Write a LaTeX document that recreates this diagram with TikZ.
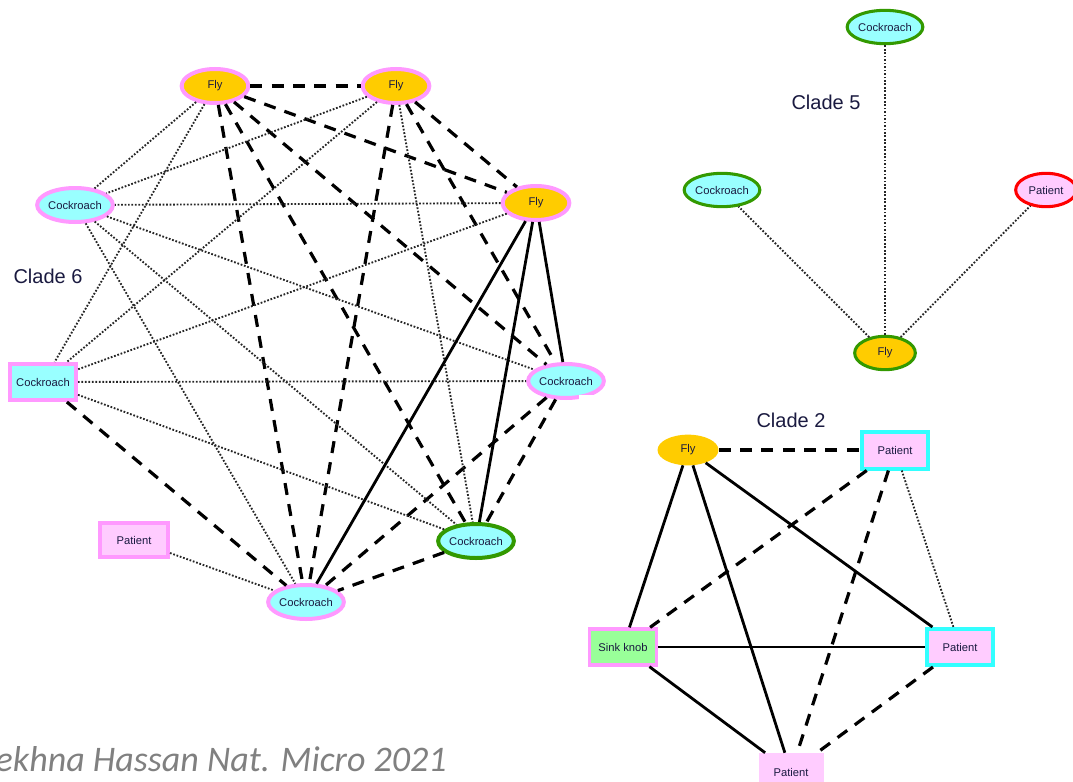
\documentclass[tikz,border=0pt]{standalone}
\usepackage{fontspec}
\setmainfont{Liberation Sans}
\newfontfamily\citefont{Carlito}
\usetikzlibrary{shapes.geometric}
\definecolor{flyc}{HTML}{FFCC00}
\definecolor{roach}{HTML}{99FFFF}
\definecolor{pat}{HTML}{FFCCFF}
\definecolor{sinkc}{HTML}{99FF99}
\definecolor{pinkb}{HTML}{FF99FF}
\definecolor{greenb}{HTML}{339900}
\definecolor{redb}{HTML}{FF0000}
\definecolor{cyanb}{HTML}{33FFFF}
\definecolor{citec}{HTML}{808080}
\definecolor{labc}{HTML}{1A1A40}
\begin{document}
\begin{tikzpicture}[x=0.75pt,y=-0.75pt,
  every node/.style={inner sep=0pt},
  lbl/.style={font=\fontsize{8.4}{9}\selectfont, text=labc},
  ellbig/.style={lbl, ellipse, line width=3pt, minimum width=50pt, minimum height=25.5pt},
  ellsm/.style={lbl, ellipse, line width=2.3pt, minimum width=45.5pt, minimum height=25pt},
  boxb/.style={lbl, rectangle, line width=3pt, minimum width=49.5pt, minimum height=27pt},
  flyfill/.style={fill=flyc},
  roachfill/.style={fill=roach},
  patfill/.style={fill=pat},
  cladelbl/.style={font=\fontsize{15}{17}\selectfont, text=labc},
  dsh/.style={draw=black, line width=2.4pt, dash pattern=on 9pt off 7pt},
  dot/.style={draw=black!85, line width=1.4pt, dash pattern=on 1.3pt off 1.3pt},
  sol/.style={draw=black, line width=2.1pt},
]
\useasboundingbox (0,0) rectangle (1073,781);

% ---------------- Clade 6 ----------------
\node[ellbig, flyfill, draw=pinkb] (F1) at (215,86) {Fly};
\node[ellbig, flyfill, draw=pinkb] (F2) at (396,86) {Fly};
\node[ellbig, flyfill, draw=pinkb] (F3) at (536,203) {Fly};
\node[ellbig, roachfill, draw=pinkb] (C1) at (75,205) {Cockroach};
\node[boxb, roachfill, draw=pinkb] (C2) at (43,382) {Cockroach};
\node[ellbig, roachfill, draw=pinkb] (C3) at (566,381) {Cockroach};
\node[ellbig, roachfill, draw=greenb] (C4) at (476,541) {Cockroach};
\node[ellbig, roachfill, draw=pinkb] (C5) at (306,602) {Cockroach};
\node[boxb, patfill, draw=pinkb, minimum width=51pt, minimum height=25.5pt] (P6) at (134,540) {Patient};
\node[cladelbl] (L6) at (48,276) {Clade 6};

\foreach \a/\b in {F1/F2,F1/F3,F1/C3,F1/C4,F1/C5,F2/F3,F2/C3,F2/C5,C2/C5,C3/C4,C3/C5,C4/C5}
  \draw[dsh] (\a) -- (\b);
\foreach \a/\b in {F1/C1,F1/C2,F2/C1,F2/C2,F2/C4,F3/C1,F3/C2,C1/C3,C1/C4,C1/C5,C2/C3,C2/C4,P6/C5}
  \draw[dot] (\a) -- (\b);
\foreach \a/\b in {F3/C3,F3/C4,F3/C5}
  \draw[sol] (\a) -- (\b);
\fill[white] (579,395) rectangle (600,412);

% ---------------- Clade 5 ----------------
\node[ellsm, roachfill, draw=greenb] (CT) at (885,27) {Cockroach};
\node[ellsm, roachfill, draw=greenb] (CL) at (722,190) {Cockroach};
\node[ellsm, patfill, draw=redb] (P5) at (1046,190) {Patient};
\node[ellsm, flyfill, draw=greenb] (F5) at (885,353) {Fly};
\node[cladelbl] (L5) at (826,102) {Clade 5};
\foreach \b in {CT,CL,P5}
  \draw[dot] (F5) -- (\b);

% ---------------- Clade 2 ----------------
\node[lbl, ellipse, flyfill, minimum width=45.75pt, minimum height=23pt] (F2c) at (688,450) {Fly};
\node[boxb, patfill, draw=cyanb, minimum height=27.75pt] (PA) at (895,450) {Patient};
\node[boxb, fill=sinkc, draw=pinkb, line width=2.5pt, minimum width=50pt, minimum height=27pt] (SK) at (623,647) {Sink knob};
\node[boxb, patfill, draw=cyanb, minimum height=27pt] (PB) at (960,647) {Patient};
\node[lbl, rectangle, patfill, minimum width=48.75pt, minimum height=28.5pt] (PC) at (791,772) {Patient};
\node[cladelbl] (L2) at (791,420) {Clade 2};

\foreach \a/\b in {F2c/PA,PA/SK,PA/PC,PB/PC}
  \draw[dsh] (\a) -- (\b);
\foreach \a/\b in {F2c/SK,F2c/PC,F2c/PB,SK/PB,SK/PC}
  \draw[sol] (\a) -- (\b);
\draw[dot] (PA) -- (PB);

% ---------------- citation ----------------
\node[anchor=base east, font=\citefont\itshape\fontsize{27}{30}\selectfont, text=citec] (cite) at (447,771) {ekhna Hassan Nat. Micro 2021};
\end{tikzpicture}
\end{document}
